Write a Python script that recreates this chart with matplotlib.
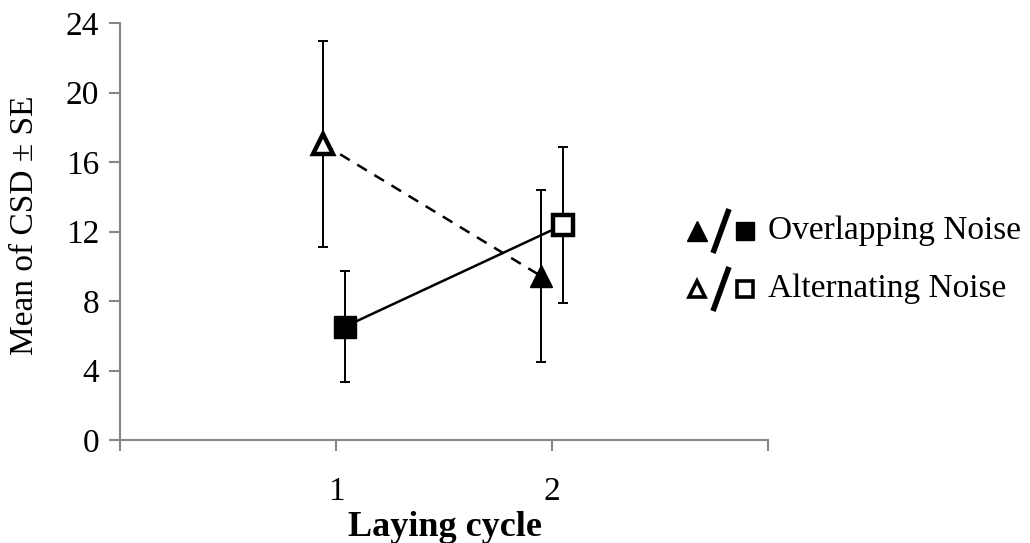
import matplotlib
matplotlib.use('Agg')
import matplotlib.pyplot as plt
from matplotlib.lines import Line2D

plt.rcParams['font.family'] = ['Liberation Serif', 'DejaVu Serif']

# values
cycles = [1, 2]
y_ticks = [0, 4, 8, 12, 16, 20, 24]

tri_x = [0.94, 1.95]
tri_mean = [17.04, 9.43]
tri_lo = [11.12, 4.47]
tri_hi = [22.96, 14.39]
tri_filled = [False, True]

sq_x = [1.04, 2.05]
sq_mean = [6.52, 12.37]
sq_lo = [3.32, 7.87]
sq_hi = [9.73, 16.88]
sq_filled = [True, False]

labels = ['Overlapping Noise', 'Alternating Noise']

W, H = 1030, 543
grey = '#878787'

fig = plt.figure(figsize=(W / 100, H / 100), dpi=100)
ax = fig.add_axes([120 / W, 1 - 440 / H, (768 - 120) / W, (440 - 23) / H])

# connecting lines
ax.plot(tri_x, tri_mean, color='black', lw=1.8, ls=(0, (4.5, 3.5)), zorder=2)
ax.plot(sq_x, sq_mean, color='black', lw=1.8, zorder=2)

# error bars
for xs, m, lo, hi in [(tri_x, tri_mean, tri_lo, tri_hi), (sq_x, sq_mean, sq_lo, sq_hi)]:
    err = [[a - b for a, b in zip(m, lo)], [b - a for a, b in zip(m, hi)]]
    ax.errorbar(xs, m, yerr=err, fmt='none', ecolor='black',
                elinewidth=1.4, capsize=3.5, capthick=1.4, zorder=3)

# markers
for xs, m, filled, mk in [(tri_x, tri_mean, tri_filled, '^'), (sq_x, sq_mean, sq_filled, 's')]:
    for x, y, f in zip(xs, m, filled):
        if f:
            ax.plot(x, y, marker=mk, ms=16, mfc='black', mec='black', mew=1, zorder=4)
        else:
            ax.plot(x, y, marker=mk, ms=14, mfc='white', mec='black', mew=3.2, zorder=4)

ax.set_xlim(0, 3)
ax.set_ylim(0, 24)
ax.set_xticks([0] + cycles + [3])
ax.set_xticklabels([''] + [str(c) for c in cycles] + [''])
ax.set_yticks(y_ticks)

for s in ['top', 'right']:
    ax.spines[s].set_visible(False)
for s in ['left', 'bottom']:
    ax.spines[s].set_color(grey)
    ax.spines[s].set_linewidth(1.5)

ax.tick_params(axis='both', direction='out', length=8, width=1.5, color=grey,
               labelcolor='black', labelsize=24)
ax.tick_params(axis='y', pad=7)
ax.tick_params(axis='x', pad=18)

fig.text(25 / W, 1 - 225 / H, 'Mean of CSD \u00b1 SE', rotation=90,
         ha='center', va='center', fontsize=24)
fig.text(445 / W, 1 - 528 / H, 'Laying cycle', ha='center', va='center',
         fontsize=26, fontweight='bold')

# legend glyphs: triangle / square
rows = [231, 289]
for i, (row, lab) in enumerate(zip(rows, labels)):
    yf = 1 - row / H
    filled = i == 0
    fc = 'black' if filled else 'white'
    mew = 1 if filled else 2.6
    ms = 14 if filled else 12
    fig.add_artist(Line2D([697 / W], [yf], marker='^', ms=ms, mfc=fc, mec='black', mew=mew))
    fig.add_artist(Line2D([713 / W, 729 / W], [1 - (row + 22) / H, 1 - (row - 22) / H],
                          color='black', lw=4, solid_capstyle='butt'))
    fig.add_artist(Line2D([745 / W], [yf], marker='s', ms=ms - 1, mfc=fc, mec='black', mew=mew))
    fig.text(768 / W, yf, lab, ha='left', va='center', fontsize=24)

fig.savefig('out.png', dpi=100)
